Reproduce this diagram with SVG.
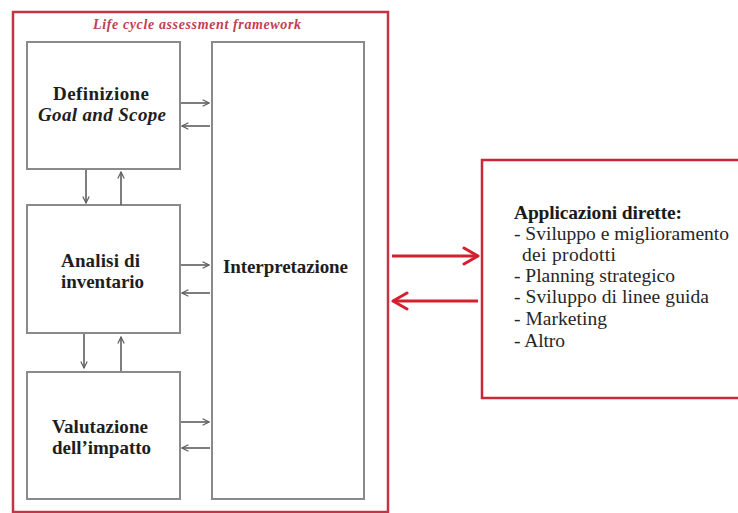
<svg xmlns="http://www.w3.org/2000/svg" width="738" height="513" viewBox="0 0 738 513">
  <style>
    .stage { fill: #ffffff; stroke: #8a8a8a; stroke-width: 2; }
    .frame { fill: none; stroke: #c23446; stroke-width: 2.5; }
    .apps { fill: #ffffff; stroke: #c8283a; stroke-width: 2.5; }
    .lbl { font-family: "Liberation Serif", "Times New Roman", serif; font-size: 19px; font-weight: bold; fill: #1e1e1e; text-anchor: middle; }
    .it { font-style: italic; }
    .title { font-family: "Liberation Serif", "Times New Roman", serif; font-size: 14px; font-weight: bold; font-style: italic; fill: #c0404f; text-anchor: middle; }
    .list { font-family: "Liberation Serif", "Times New Roman", serif; font-size: 19.5px; fill: #262626; }
    .list .head { font-weight: bold; fill: #1a1a1a; }
    .flow { stroke: #5e5e5e; stroke-width: 1.6; fill: none; marker-end: url(#grayHead); }
    .link { stroke: #d3202e; stroke-width: 3; fill: none; marker-end: url(#redHead); }
  </style>
  <defs>
    <marker id="grayHead" viewBox="0 0 10 10" refX="9" refY="5" markerWidth="8" markerHeight="8" markerUnits="userSpaceOnUse" orient="auto">
      <path d="M1,1 L9,5 L1,9" fill="none" stroke="#5e5e5e" stroke-width="1.5"/>
    </marker>
    <marker id="redHead" viewBox="0 0 20 20" refX="18" refY="10" markerWidth="20" markerHeight="20" markerUnits="userSpaceOnUse" orient="auto">
      <path d="M4,2 L18,10 L4,18" fill="none" stroke="#d3202e" stroke-width="3" stroke-linecap="round" stroke-linejoin="round"/>
    </marker>
  </defs>

  <rect width="738" height="513" fill="#ffffff"/>

  <!-- LCA framework container -->
  <g id="framework">
    <rect class="frame" x="13" y="12" width="375" height="500"/>
    <text class="title" x="197" y="29" textLength="208">Life cycle assessment framework</text>
  </g>

  <g id="goal-scope">
    <rect class="stage" x="27" y="42" width="153" height="127"/>
    <text class="lbl" x="101" y="100" textLength="96">Definizione</text>
    <text class="lbl it" x="102" y="121" textLength="128">Goal and Scope</text>
  </g>

  <g id="inventory">
    <rect class="stage" x="27" y="205" width="153" height="128"/>
    <text class="lbl" x="100.5" y="267" textLength="79">Analisi di</text>
    <text class="lbl" x="102.5" y="288" textLength="83">inventario</text>
  </g>

  <g id="impact">
    <rect class="stage" x="27" y="372" width="153" height="127"/>
    <text class="lbl" x="100" y="433" textLength="96">Valutazione</text>
    <text class="lbl" x="101.5" y="454" textLength="99">dell’impatto</text>
  </g>

  <g id="interpretation">
    <rect class="stage" x="212" y="42" width="152" height="457"/>
    <text class="lbl" x="285.5" y="273" textLength="125">Interpretazione</text>
  </g>

  <g id="applications">
    <rect class="apps" x="482" y="160" width="270" height="238"/>
    <text class="list">
      <tspan class="head" x="514" y="219" textLength="168">Applicazioni dirette:</tspan>
      <tspan x="514" y="240" textLength="215">- Sviluppo e miglioramento</tspan>
      <tspan x="522" y="261" textLength="94">dei prodotti</tspan>
      <tspan x="514" y="282" textLength="161">- Planning strategico</tspan>
      <tspan x="514" y="303" textLength="195">- Sviluppo di linee guida</tspan>
      <tspan x="514" y="325" textLength="93">- Marketing</tspan>
      <tspan x="514" y="347" textLength="51">- Altro</tspan>
    </text>
  </g>

  <g id="connectors">
    <!-- stage to interpretation and back -->
    <line class="flow" x1="181" y1="103" x2="209" y2="103"/>
    <line class="flow" x1="210" y1="126" x2="182" y2="126"/>
    <line class="flow" x1="181" y1="265" x2="209" y2="265"/>
    <line class="flow" x1="210" y1="293" x2="182" y2="293"/>
    <line class="flow" x1="181" y1="422" x2="209" y2="422"/>
    <line class="flow" x1="210" y1="448" x2="182" y2="448"/>
    <!-- between stages -->
    <line class="flow" x1="86" y1="170" x2="86" y2="203"/>
    <line class="flow" x1="121" y1="205" x2="121" y2="172"/>
    <line class="flow" x1="84" y1="334" x2="84" y2="368"/>
    <line class="flow" x1="121" y1="371" x2="121" y2="337"/>
    <!-- framework to applications -->
    <line class="link" x1="392" y1="256" x2="478" y2="256"/>
    <line class="link" x1="478" y1="301" x2="393" y2="301"/>
  </g>
</svg>
